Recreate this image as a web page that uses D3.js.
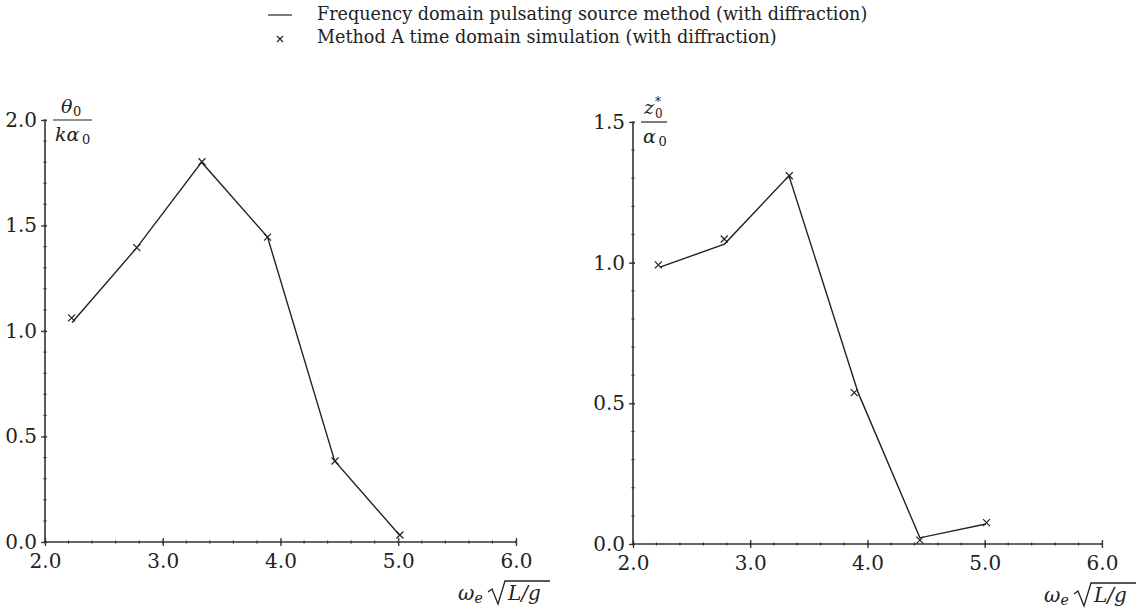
<!DOCTYPE html>
<html><head><meta charset="utf-8">
<script src="https://cdn.jsdelivr.net/npm/d3@7"></script>
<style>
body{margin:0;background:#fff;}
text{font-family:"DejaVu Serif","Liberation Serif",serif;fill:#222;}
</style></head>
<body><svg id="c" width="1139" height="613"></svg>
<script>
// ---- data ----
const xTicks = [2.0, 3.0, 4.0, 5.0, 6.0];
const yTicksLeft = [0.0, 0.5, 1.0, 1.5, 2.0];
const yTicksRight = [0.0, 0.5, 1.0, 1.5];
const legendLabels = ["Frequency domain pulsating source method (with diffraction)",
                      "Method A time domain simulation (with diffraction)"];
// left panel: theta0/(k alpha0)
const leftLineX = [2.23, 2.78, 3.33, 3.89, 4.46, 5.01];
const leftLineY = [1.04, 1.395, 1.80, 1.445, 0.384, 0.033];
const leftMarkX = [2.226, 2.78, 3.333, 3.89, 4.463, 5.014];
const leftMarkY = [1.062, 1.395, 1.802, 1.445, 0.384, 0.033];
// right panel: z0*/alpha0
const rightLineX = [2.23, 2.78, 3.33, 3.92, 4.447, 5.01];
const rightLineY = [0.984, 1.066, 1.309, 0.538, 0.022, 0.071];
const rightMarkX = [2.216, 2.778, 3.333, 3.887, 4.447, 5.015];
const rightMarkY = [0.992, 1.084, 1.309, 0.538, 0.014, 0.076];

const svg = d3.select("#c");
const axisColor = "#333";

function panel(cfg){
  const x = d3.scaleLinear().domain([2,6]).range([cfg.x0, cfg.x1]);
  const y = d3.scaleLinear().domain([0,cfg.ymax]).range([cfg.y0, cfg.y1]);
  const g = svg.append("g");
  // minor ticks
  const xMinor = d3.range(2, 6.0001, 0.2).map(v=>+v.toFixed(2));
  const yMinor = d3.range(0, cfg.ymax+0.0001, 0.1).map(v=>+v.toFixed(2));
  g.append("g").selectAll("line").data(xMinor).join("line")
    .attr("x1",d=>x(d)).attr("x2",d=>x(d)).attr("y1",cfg.y0-1.5).attr("y2",cfg.y0+1.5)
    .attr("stroke",axisColor).attr("stroke-width",1.2);
  g.append("g").selectAll("line").data(yMinor).join("line")
    .attr("y1",d=>y(d)).attr("y2",d=>y(d)).attr("x1",cfg.x0-1.5).attr("x2",cfg.x0+1.5)
    .attr("stroke",axisColor).attr("stroke-width",1.2);
  // x axis
  const xa = g.append("g").attr("transform",`translate(0,${cfg.y0})`)
    .call(d3.axisBottom(x).tickValues(xTicks).tickFormat(d3.format(".1f")).tickSize(4).tickPadding(8));
  xa.select(".domain").attr("d",`M${cfg.x0},0H${cfg.x1}`).attr("stroke",axisColor).attr("stroke-width",1.6);
  xa.selectAll(".tick line").attr("y1",-4).attr("y2",4).attr("stroke",axisColor).attr("stroke-width",1.3);
  xa.selectAll(".tick text").attr("font-size",20).attr("font-family","DejaVu Serif").attr("fill","#222");
  // y axis
  const ya = g.append("g").attr("transform",`translate(${cfg.x0},0)`)
    .call(d3.axisLeft(y).tickValues(cfg.yTicks).tickFormat(d3.format(".1f")).tickSize(4).tickPadding(4));
  ya.select(".domain").attr("d",`M0,${cfg.y0}V${cfg.y1}`).attr("stroke",axisColor).attr("stroke-width",1.6);
  ya.selectAll(".tick line").attr("x1",-4).attr("x2",2).attr("stroke",axisColor).attr("stroke-width",1.3);
  ya.selectAll(".tick text").attr("font-size",20).attr("font-family","DejaVu Serif").attr("fill","#222");
  // line
  const pts = cfg.lx.map((v,i)=>[v,cfg.ly[i]]);
  g.append("path").datum(pts)
    .attr("d",d3.line().x(d=>x(d[0])).y(d=>y(d[1])))
    .attr("fill","none").attr("stroke","#222").attr("stroke-width",1.4);
  // markers
  const mk = cfg.mx.map((v,i)=>[v,cfg.my[i]]);
  g.append("g").selectAll("path").data(mk).join("path")
    .attr("transform",d=>`translate(${x(d[0])},${y(d[1])})`)
    .attr("d","M-3.5,-3.5L3.5,3.5M-3.5,3.5L3.5,-3.5")
    .attr("stroke","#222").attr("stroke-width",1.2).attr("fill","none");
  // x label
  const xl = g.append("g").attr("transform",`translate(${cfg.x1-58},${cfg.y0+58})`);
  xl.append("text").attr("x",0).attr("y",0).attr("font-size",20).attr("font-style","italic").text("ω");
  xl.append("text").attr("x",16.5).attr("y",3).attr("font-size",14).attr("font-style","italic").text("e");
  xl.append("path").attr("d","M30,-8 L34,-11 L40,4 L47,-19 L92,-19")
    .attr("fill","none").attr("stroke","#222").attr("stroke-width",1.3);
  xl.append("text").attr("x",50).attr("y",0).attr("font-size",20).attr("font-style","italic").text("L/g");
  // y label (fraction)
  const yl = g.append("g").attr("transform",`translate(${cfg.x0},${cfg.y1})`);
  yl.append("line").attr("x1",cfg.fx0).attr("x2",cfg.fx1).attr("y1",0).attr("y2",0)
    .attr("stroke","#222").attr("stroke-width",1.2);
  cfg.label.forEach(t=>{
    yl.append("text").attr("x",t[1]).attr("y",t[2]).attr("font-size",t[3])
      .attr("font-style",t[4]).text(t[0]);
  });
}

panel({x0:45,x1:516,y0:542,y1:120,ymax:2.0,yTicks:yTicksLeft,
  lx:leftLineX,ly:leftLineY,mx:leftMarkX,my:leftMarkY,fx0:8,fx1:47,
  label:[["θ",16,-7,19,"italic"],["0",28,-4,13,"normal"],
         ["kα",10,21,19,"italic"],["0",37,24,13,"normal"]]});
panel({x0:633,x1:1102,y0:544,y1:122,ymax:1.5,yTicks:yTicksRight,
  lx:rightLineX,ly:rightLineY,mx:rightMarkX,my:rightMarkY,fx0:8,fx1:34,
  label:[["z",11,-8,19,"italic"],["0",22,-4,12,"normal"],["*",22,-16,12,"normal"],
         ["α",10,21,19,"italic"],["0",25.5,24,13,"normal"]]});

// legend
const lg = svg.append("g");
lg.append("line").attr("x1",268).attr("x2",292).attr("y1",15).attr("y2",15).attr("stroke","#222").attr("stroke-width",1.2);
lg.append("path").attr("transform","translate(280,39)").attr("d","M-3,-3L3,3M-3,3L3,-3").attr("stroke","#222").attr("stroke-width",1.1);
lg.selectAll("text.leg").data(legendLabels).join("text").attr("class","leg")
  .attr("x",317).attr("y",(d,i)=>20+i*23).attr("font-size",17.6).text(d=>d);
</script></body></html>
